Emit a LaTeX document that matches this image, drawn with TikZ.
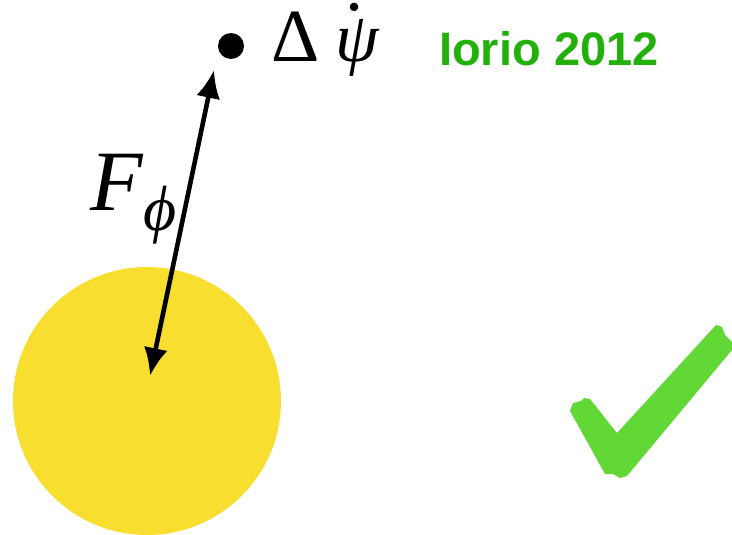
\documentclass[tikz,border=0pt]{standalone}
\usepackage{fontspec}
\setmainfont{Liberation Serif}
\newfontfamily\labelsans{Liberation Sans}
\usetikzlibrary{arrows.meta}
\definecolor{sunyellow}{HTML}{F8DE2E}
\definecolor{titlegreen}{HTML}{22B00A}
\definecolor{checkgreen}{HTML}{62D836}
\tikzset{
  sun/.style={circle,fill=sunyellow,minimum size=268pt,inner sep=0pt},
  dotnode/.style={circle,fill=black,minimum size=26pt,inner sep=0pt},
  forcearrow/.style={line width=4.6pt,{Latex[length=28pt,width=24pt]}-{Latex[length=28pt,width=24pt]}},
  serifbig/.style={inner sep=0pt,anchor=base west},
}
\begin{document}
\begin{tikzpicture}[x=1pt,y=-1pt]
\useasboundingbox (0,0) rectangle (732,535);
\node[sun] (sun) at (147,401) {};
\node[dotnode] (dot) at (231,46) {};
\coordinate (top) at (214,70);
\coordinate (bot) at (150,376);
\draw[forcearrow] (top) -- (bot);
\node[serifbig,font=\fontsize{75}{75}\selectfont] (psi) at (271,62) {Δ\kern0.22em{\itshape\fontsize{70}{70}\selectfont ψ\llap{\smash{\raisebox{0.74em}{.}}\kern0.2em}}};
\node[serifbig,font=\fontsize{86}{86}\selectfont\itshape] (F) at (90,210) {F};
\node[serifbig,font=\fontsize{64}{64}\selectfont\itshape] (phi) at (143,230) {ϕ};
\node[inner sep=0pt,anchor=base west,text=titlegreen,font=\labelsans\bfseries\fontsize{47}{47}\selectfont] (iorio) at (439,66) {Iorio 2012};
\fill[checkgreen] (570,411) -- (573,403) -- (581,401) -- (584,398) -- (590,399)
  -- (617,433) -- (716,325) -- (722,327) -- (725,335) -- (732,342) -- (732,350)
  -- (627,476) -- (620,478) -- (613,474) -- (605,474) -- cycle;
\end{tikzpicture}
\end{document}
